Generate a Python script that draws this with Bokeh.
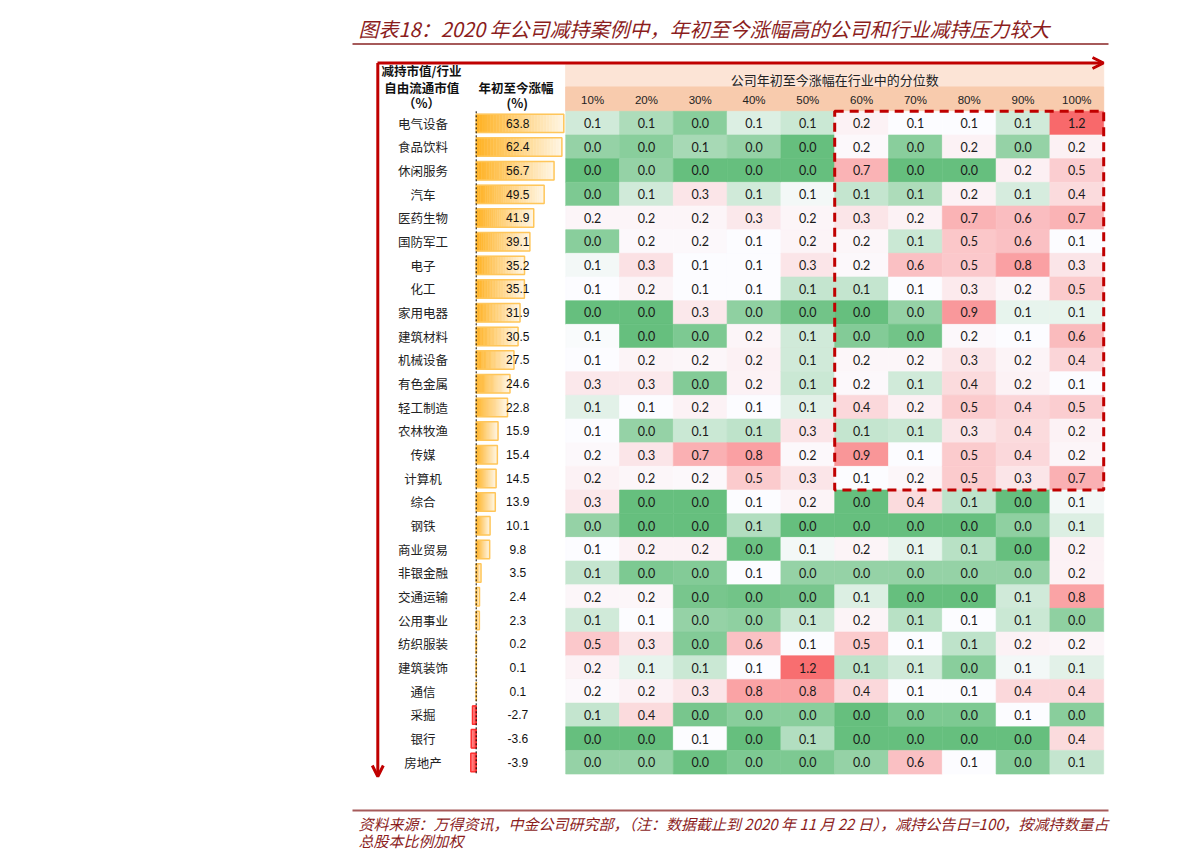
from bokeh.plotting import figure
from bokeh.models import Range1d, ColumnDataSource, Arrow, OpenHead, Label, LinearColorMapper
from bokeh.transform import transform
from bokeh.core.properties import value
from bokeh.embed import file_html
from bokeh.resources import INLINE

# ---------------- data ----------------
industries = ["电气设备", "食品饮料", "休闲服务", "汽车", "医药生物", "国防军工", "电子", "化工",
              "家用电器", "建筑材料", "机械设备", "有色金属", "轻工制造", "农林牧渔", "传媒", "计算机",
              "综合", "钢铁", "商业贸易", "非银金融", "交通运输", "公用事业", "纺织服装", "建筑装饰",
              "通信", "采掘", "银行", "房地产"]
ytd = [63.8, 62.4, 56.7, 49.5, 41.9, 39.1, 35.2, 35.1, 31.9, 30.5, 27.5, 24.6, 22.8, 15.9,
       15.4, 14.5, 13.9, 10.1, 9.8, 3.5, 2.4, 2.3, 0.2, 0.1, 0.1, -2.7, -3.6, -3.9]
percentiles = ["10%", "20%", "30%", "40%", "50%", "60%", "70%", "80%", "90%", "100%"]

p10 = [0.09, 0.04, 0.00, 0.02, 0.18, 0.03, 0.12, 0.13, 0.00, 0.125, 0.13, 0.28, 0.105, 0.13,
       0.16, 0.20, 0.28, 0.044, 0.13, 0.08, 0.17, 0.09, 0.52, 0.20, 0.16, 0.08, 0.00, 0.044]
p20 = [0.06, 0.03, 0.04, 0.09, 0.18, 0.16, 0.33, 0.19, 0.00, 0.00, 0.19, 0.27, 0.13, 0.04,
       0.30, 0.17, 0.00, 0.00, 0.20, 0.02, 0.17, 0.13, 0.30, 0.11, 0.20, 0.38, 0.00, 0.044]
p30 = [0.03, 0.056, 0.00, 0.30, 0.18, 0.16, 0.13, 0.13, 0.28, 0.02, 0.17, 0.025, 0.20, 0.085,
       0.70, 0.16, 0.00, 0.00, 0.20, 0.025, 0.015, 0.04, 0.025, 0.085, 0.30, 0.015, 0.13, 0.005]
p40 = [0.10, 0.04, 0.00, 0.09, 0.28, 0.13, 0.13, 0.13, 0.035, 0.18, 0.21, 0.20, 0.13, 0.075,
       0.82, 0.50, 0.13, 0.065, 0.005, 0.13, 0.01, 0.035, 0.57, 0.13, 0.80, 0.03, 0.00, 0.02]
p50 = [0.085, 0.00, 0.00, 0.12, 0.18, 0.19, 0.30, 0.08, 0.01, 0.09, 0.09, 0.085, 0.105, 0.30,
       0.16, 0.30, 0.19, 0.00, 0.12, 0.04, 0.015, 0.085, 0.13, 1.20, 0.80, 0.03, 0.065, 0.02]
p60 = [0.20, 0.16, 0.68, 0.08, 0.30, 0.17, 0.16, 0.08, 0.00, 0.025, 0.17, 0.16, 0.40, 0.08,
       0.90, 0.13, 0.00, 0.00, 0.19, 0.04, 0.10, 0.19, 0.50, 0.075, 0.40, 0.00, 0.00, 0.04]
p70 = [0.13, 0.03, 0.00, 0.06, 0.20, 0.085, 0.58, 0.13, 0.04, 0.01, 0.17, 0.09, 0.22, 0.085,
       0.13, 0.17, 0.38, 0.00, 0.11, 0.04, 0.00, 0.07, 0.13, 0.09, 0.13, 0.02, 0.00, 0.58]
p80 = [0.13, 0.20, 0.00, 0.20, 0.68, 0.53, 0.52, 0.26, 0.88, 0.16, 0.30, 0.38, 0.50, 0.30,
       0.50, 0.50, 0.075, 0.00, 0.07, 0.04, 0.00, 0.13, 0.075, 0.03, 0.13, 0.02, 0.00, 0.13]
p90 = [0.09, 0.04, 0.22, 0.095, 0.60, 0.58, 0.82, 0.17, 0.11, 0.13, 0.19, 0.20, 0.42, 0.38,
       0.40, 0.30, 0.00, 0.035, 0.00, 0.04, 0.09, 0.085, 0.20, 0.12, 0.40, 0.13, 0.00, 0.025]
p100 = [1.24, 0.21, 0.48, 0.38, 0.68, 0.13, 0.30, 0.50, 0.11, 0.62, 0.42, 0.13, 0.48, 0.20,
        0.18, 0.70, 0.12, 0.10, 0.20, 0.20, 0.80, 0.035, 0.18, 0.105, 0.40, 0.03, 0.38, 0.08]
pressure_cols = [p10, p20, p30, p40, p50, p60, p70, p80, p90, p100]

highlight_first_col = "60%"
highlight_last_row = "计算机"

title = "图表18：2020 年公司减持案例中，年初至今涨幅高的公司和行业减持压力较大"
source_note_1 = "资料来源：万得资讯，中金公司研究部，（注：数据截止到 2020 年 11 月 22 日），减持公告日=100，按减持数量占"
source_note_2 = "总股本比例加权"

# ---------------- styles ----------------
CJK = "Noto Sans CJK SC"
RED = "#C00000"
MAROON = "#8B1D1D"
RULE = "#A65A5A"
GREEN, WHITE, PINK = (99, 190, 123), (252, 252, 255), (248, 105, 107)
SCALE_LO, SCALE_MID, SCALE_HI = 0.0, 0.13, 1.24


def mix(a, b, t):
    return "#%02x%02x%02x" % tuple(int(round(a[i] + (b[i] - a[i]) * t)) for i in range(3))


def scale_color(v):
    if v <= SCALE_MID:
        return mix(GREEN, WHITE, (v - SCALE_LO) / (SCALE_MID - SCALE_LO))
    return mix(WHITE, PINK, (v - SCALE_MID) / (SCALE_HI - SCALE_MID))


NPAL = 248
palette = [scale_color(SCALE_LO + (k + 0.5) * (SCALE_HI - SCALE_LO) / NPAL) for k in range(NPAL)]
mapper = LinearColorMapper(palette=palette, low=SCALE_LO, high=SCALE_HI)

# ---------------- figure ----------------
W, H = 1191, 850
p = figure(width=W, height=H, output_backend="svg", toolbar_location=None,
           x_range=Range1d(0, W), y_range=Range1d(H, 0),
           x_axis_location=None, y_axis_location=None, min_border=0)
p.grid.visible = False
p.outline_line_color = None

ROW0, ROWH = 110.8, 23.67
COL0, COLW = 565.2, 53.8
BAR0, BARK = 475.7, 1.373
p.extra_y_ranges = {"rows": Range1d(start=(H - ROW0) / ROWH, end=-ROW0 / ROWH)}
p.extra_x_ranges = {"cols": Range1d(start=-COL0 / COLW, end=(W - COL0) / COLW),
                    "bars": Range1d(start=-BAR0 / BARK, end=(W - BAR0) / BARK)}

ncol = len(percentiles)
nrow = len(industries)

# header bands
p.quad(left=0, right=ncol, top=64.3, bottom=86.5, x_range_name="cols",
       fill_color="#FCE4D6", line_color="#FCE4D6")
p.quad(left=0, right=ncol, top=86.5, bottom=ROW0, x_range_name="cols",
       fill_color="#F8CBAD", line_color="#F8CBAD")
p.text(x=[ncol / 2], y=[79.0], text=["公司年初至今涨幅在行业中的分位数"], x_range_name="cols",
       text_align="center", text_baseline="middle", text_font=value(CJK),
       text_font_size="13px", text_color="#222222")
p.text(x=[i + 0.5 for i in range(ncol)], y=[99.3] * ncol, text=percentiles, x_range_name="cols",
       text_align="center", text_baseline="middle", text_font=value("Liberation Sans"),
       text_font_size="11.5px", text_color="#222222")

# heatmap
hx, hy, hv, hl = [], [], [], []
for ci, col in enumerate(pressure_cols):
    for ri, v in enumerate(col):
        hx.append(ci + 0.5)
        hy.append(ri + 0.5)
        hv.append(v)
        hl.append(f"{v:.1f}")
hsrc = ColumnDataSource(dict(x=hx, y=hy, v=hv, label=hl))
p.rect(x="x", y="y", width=1, height=1, source=hsrc, x_range_name="cols", y_range_name="rows",
       fill_color=transform("v", mapper), line_color=transform("v", mapper), line_width=0.6)
p.text(x="x", y="y", text="label", source=hsrc, x_range_name="cols", y_range_name="rows",
       text_align="center", text_baseline="middle", text_font=value("Lato"),
       text_font_size="12.5px", text_color="#1a1a1a")

# dashed highlight box
c0 = percentiles.index(highlight_first_col)
r1 = industries.index(highlight_last_row) + 1
p.quad(left=c0, right=ncol, top=0, bottom=r1, x_range_name="cols", y_range_name="rows",
       fill_color=None, line_color=RED, line_width=3, line_dash="9 6")

# gradient data bars
NS = 30
bl, br, bt, bb, bc = [], [], [], [], []
for ri, v in enumerate(ytd):
    for k in range(NS):
        t = k / NS
        bl.append(v * k / NS)
        br.append(v * (k + 1) / NS)
        bt.append(ri + 0.12)
        bb.append(ri + 0.9)
        if v >= 0:
            bc.append(mix((255, 178, 36), (255, 247, 232), t))
        else:
            bc.append(mix((255, 60, 60), (255, 150, 150), t))
bsrc = ColumnDataSource(dict(left=bl, right=br, top=bt, bottom=bb, color=bc))
p.quad(left="left", right="right", top="top", bottom="bottom", source=bsrc,
       x_range_name="bars", y_range_name="rows", fill_color="color", line_color="color",
       line_width=0.5)
osrc = ColumnDataSource(dict(
    left=[0] * nrow, right=ytd, top=[r + 0.12 for r in range(nrow)],
    bottom=[r + 0.9 for r in range(nrow)],
    color=["#FFC65A" if v >= 0 else "#FF3030" for v in ytd]))
p.quad(left="left", right="right", top="top", bottom="bottom", source=osrc,
       x_range_name="bars", y_range_name="rows", fill_color=None, line_color="color",
       line_width=1.5)
p.segment(x0=[0], y0=[0], x1=[0], y1=[nrow], x_range_name="bars", y_range_name="rows",
          line_color="black", line_width=1, line_dash="2 2")

# row labels and bar values
p.text(x=[422.5] * nrow, y=[r + 0.5 for r in range(nrow)], text=industries, y_range_name="rows",
       text_align="center", text_baseline="middle", text_font=value(CJK),
       text_font_size="12.5px", text_color="#222222")
p.text(x=[517.3] * nrow, y=[r + 0.5 for r in range(nrow)], text=[f"{v:.1f}" for v in ytd],
       y_range_name="rows", text_align="center", text_baseline="middle",
       text_font=value("Liberation Sans"), text_font_size="12px", text_color="#111111")

# left header labels
for txt, x, y in [("减持市值/行业", 421, 70), ("自由流通市值", 421.3, 87.3), ("（%）", 421, 102.3),
                  ("年初至今涨幅", 515.5, 87.3), ("(%)", 516.7, 102.3)]:
    p.add_layout(Label(x=x, y=y, text=txt, text_align="center", text_baseline="middle",
                       text_font=CJK, text_font_size="12.5px", text_font_style="bold",
                       text_color="#111111"))

# arrows
p.add_layout(Arrow(end=OpenHead(size=11, line_color=RED, line_width=3),
                   x_start=377, y_start=62.5, x_end=1103, y_end=62.5,
                   line_color=RED, line_width=3))
p.add_layout(Arrow(end=OpenHead(size=11, line_color=RED, line_width=3),
                   x_start=377.3, y_start=62.5, x_end=377.3, y_end=776,
                   line_color=RED, line_width=3))

# title, rules, footer
p.add_layout(Label(x=358, y=28, text=title, text_align="left", text_baseline="middle",
                   text_font=CJK, text_font_size="20px", text_font_style="italic",
                   text_color=MAROON))
p.segment(x0=[352], y0=[43.5], x1=[1108], y1=[43.5], line_color=RULE, line_width=1.8)
p.segment(x0=[352], y0=[810], x1=[1108], y1=[810], line_color=RULE, line_width=1.8)
p.add_layout(Label(x=358, y=823, text=source_note_1, text_align="left", text_baseline="middle",
                   text_font=CJK, text_font_size="15px", text_font_style="italic",
                   text_color=MAROON))
p.add_layout(Label(x=358, y=840, text=source_note_2, text_align="left", text_baseline="middle",
                   text_font=CJK, text_font_size="15px", text_font_style="italic",
                   text_color=MAROON))

open("out.html", "w").write(file_html(p, INLINE))
